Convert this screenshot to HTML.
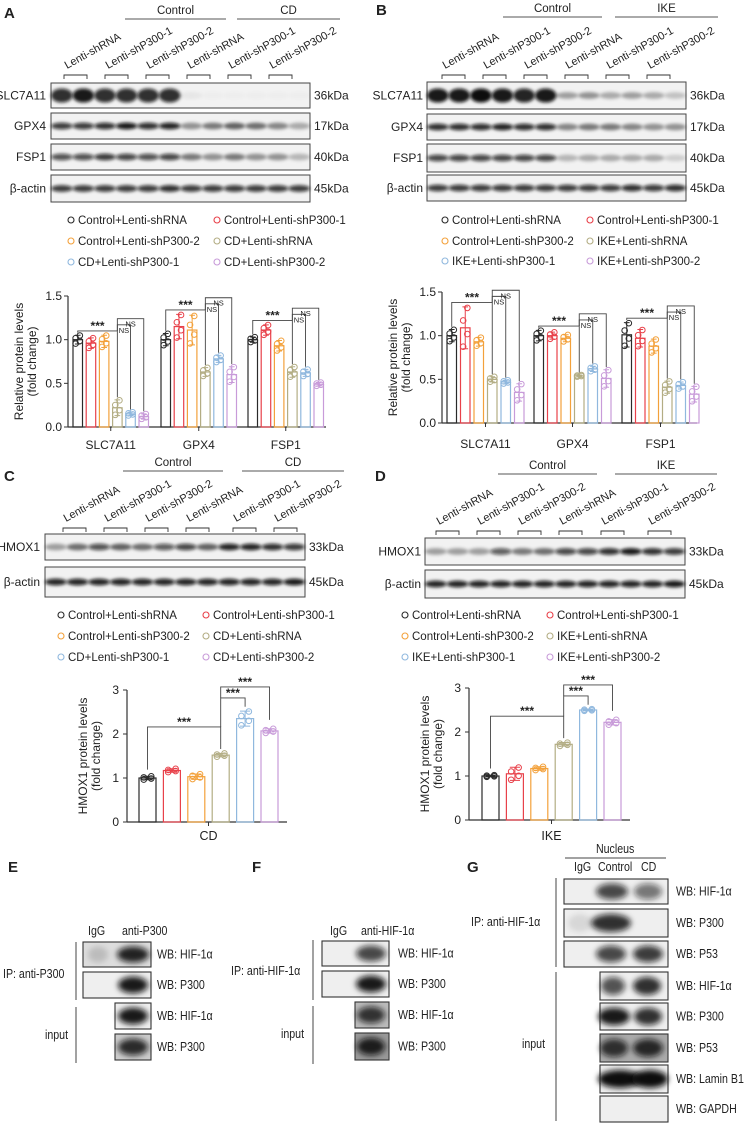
<!DOCTYPE html>
<html><head><meta charset="utf-8"><style>
html,body{margin:0;padding:0;background:#fff;}
svg{display:block;font-family:"Liberation Sans",Arial,sans-serif;}
</style></head><body>
<svg id="fig" width="744" height="1123" viewBox="0 0 744 1123" xmlns="http://www.w3.org/2000/svg">
<defs>
<filter id="blur1" x="-20%" y="-100%" width="140%" height="300%"><feGaussianBlur stdDeviation="1.6"/></filter>
<filter id="blur2" x="-30%" y="-60%" width="160%" height="220%"><feGaussianBlur stdDeviation="3"/></filter>
</defs>
<g id="root"></g>
</svg>
<script>
// ---------- DATA ----------
const colors = ['#2a2a2a','#e8414a','#f3a13b','#b3ad84','#90b8de','#c89bd9'];
const catsA = ['SLC7A11','GPX4','FSP1'];
const meansA = [[1.0,0.96,0.98,0.22,0.15,0.12],[1.0,1.15,1.11,0.63,0.78,0.60],[1.0,1.11,0.93,0.63,0.62,0.49]];
const sdsA = [[0.05,0.06,0.07,0.09,0.02,0.03],[0.07,0.14,0.17,0.05,0.04,0.09],[0.03,0.06,0.06,0.06,0.04,0.02]];
const catsB = ['SLC7A11','GPX4','FSP1'];
const meansB = [[1.0,1.09,0.93,0.50,0.47,0.35],[1.0,1.0,0.97,0.54,0.62,0.51],[1.01,0.97,0.88,0.41,0.43,0.33]];
const sdsB = [[0.07,0.24,0.05,0.03,0.02,0.1],[0.06,0.04,0.04,0.01,0.03,0.1],[0.14,0.1,0.08,0.07,0.04,0.09]];
const yTicksAB = [0.0,0.5,1.0,1.5];
const tickLabelsAB = ['0.0','0.5','1.0','1.5'];
const meansC = [1.0,1.17,1.03,1.52,2.35,2.07];
const sdsC = [0.04,0.04,0.06,0.04,0.17,0.05];
const meansD = [1.0,1.05,1.17,1.72,2.50,2.22];
const sdsD = [0.02,0.15,0.04,0.04,0.02,0.06];
const yTicksCD = [0,1,2,3];
const tickLabelsCD = ['0','1','2','3'];
const lanes = ['Lenti-shRNA','Lenti-shP300-1','Lenti-shP300-2','Lenti-shRNA','Lenti-shP300-1','Lenti-shP300-2'];
const legendA = ['Control+Lenti-shRNA','Control+Lenti-shP300-1','Control+Lenti-shP300-2','CD+Lenti-shRNA','CD+Lenti-shP300-1','CD+Lenti-shP300-2'];
const legendB = ['Control+Lenti-shRNA','Control+Lenti-shP300-1','Control+Lenti-shP300-2','IKE+Lenti-shRNA','IKE+Lenti-shP300-1','IKE+Lenti-shP300-2'];
const bandsA = {SLC7A11:[0.85,0.95,0.85,0.85,0.85,0.85,0.05,0.02,0.02,0.02,0.02,0.02],GPX4:[0.8,0.8,0.85,0.95,0.85,0.9,0.4,0.5,0.6,0.55,0.45,0.3],FSP1:[0.7,0.7,0.8,0.75,0.7,0.75,0.5,0.4,0.5,0.4,0.4,0.25],'β-actin':[0.8,0.8,0.8,0.8,0.8,0.85,0.8,0.8,0.8,0.8,0.8,0.8]};
const bandsB = {SLC7A11:[0.95,0.95,1,0.95,0.9,0.95,0.35,0.4,0.3,0.35,0.3,0.2],GPX4:[0.85,0.85,0.85,0.9,0.85,0.85,0.45,0.5,0.5,0.45,0.4,0.4],FSP1:[0.75,0.75,0.75,0.75,0.75,0.75,0.25,0.3,0.3,0.3,0.3,0.15],'β-actin':[0.8,0.8,0.8,0.8,0.8,0.8,0.8,0.8,0.8,0.85,0.8,0.85]};
const bandsC = {HMOX1:[0.35,0.55,0.7,0.6,0.55,0.65,0.75,0.6,0.9,0.9,0.85,0.8],'β-actin':[0.9,0.9,0.9,0.9,0.9,0.9,0.9,0.9,0.9,0.9,0.9,0.95]};
const bandsD = {HMOX1:[0.35,0.35,0.35,0.65,0.5,0.55,0.75,0.75,0.85,0.95,0.85,0.8],'β-actin':[0.9,0.9,0.9,0.9,0.9,0.9,0.9,0.9,0.9,0.9,0.9,0.95]};

const NS='http://www.w3.org/2000/svg';
const root=document.getElementById('root');
function el(tag,attrs,parent,text){const e=document.createElementNS(NS,tag);for(const k in attrs)e.setAttribute(k,attrs[k]);if(text!==undefined)e.textContent=text;(parent||root).appendChild(e);return e;}
function txt(x,y,s,size,parent,anchor,extra){const t=el('text',Object.assign({x:x,y:y,'font-size':size,fill:'#222','text-anchor':anchor||'start'},extra||{}),parent,s);return t;}

[['A',4,18],['B',376,15],['C',4,481],['D',375,481],['E',8,872],['F',252,872],['G',467,872]].forEach(p=>{
  const t=txt(p[1],p[2],p[0],15,root,'start',{'font-weight':'bold'});
  
  
});

function blotPanel(cfg){
  const g=el('g',{});
  
  
  cfg.groups.forEach(gr=>{
    el('line',{x1:gr[1],x2:gr[2],y1:cfg.gy,y2:cfg.gy,stroke:'#555','stroke-width':1},g);
    const t=txt((gr[1]+gr[2])/2,cfg.gy-5,gr[0],11.5,g,'middle');
    
    
  });
  const bw=cfg.bx1-cfg.bx0;
  cfg.bracketX.forEach((bx,i)=>{
    el('path',{d:`M${bx},${cfg.by+4}V${cfg.by}H${bx+23}V${cfg.by+4}`,fill:'none',stroke:'#333','stroke-width':0.9},g);
    const t=txt(0,0,lanes[i],11,g,'start',{transform:`translate(${bx+3},${cfg.by-6}) rotate(-29)`});
    
    
  });
  const laneW=bw/12;
  cfg.rows.forEach(r=>{
    const [name,y0,y1,kda]=r;
    const box=el('g',{},g);
    
    
    el('rect',{x:cfg.bx0,y:y0,width:bw,height:y1-y0,fill:'#f2f2f2',stroke:'#444','stroke-width':1},box);
    const vals=cfg.bands[name];
    const cy=(y0+y1)/2;
    vals.forEach((v,i)=>{
      const cx=cfg.bx0+laneW*(i+0.5);
      const big = name==='SLC7A11' && v>0.8;
      el('ellipse',{cx:cx,cy:cy,rx:laneW*0.5,ry:big?7:3.4,fill:`rgba(10,10,10,${v})`,filter:'url(#blur1)'},box);
    });
    txt(cfg.labX,cy+4,name,12,g,'end');
    txt(cfg.bx1+4,cy+4,kda,12,g,'start');
  });
  return g;
}

blotPanel({name:'blot-panel-a',groups:[['Control',125,226],['CD',237,340]],gy:19,bracketX:[64,105,146,187,228,269],by:75,bx0:51,bx1:310,labX:46,
  rows:[['SLC7A11',83,108,'36kDa'],['GPX4',113,139,'17kDa'],['FSP1',144,170,'40kDa'],['β-actin',175,202,'45kDa']],bands:bandsA});
blotPanel({name:'blot-panel-b',groups:[['Control',503,602],['IKE',615,718]],gy:17,bracketX:[442,483,524,565,606,647],by:75,bx0:427,bx1:686,labX:423,
  rows:[['SLC7A11',82,109,'36kDa'],['GPX4',114,140,'17kDa'],['FSP1',144,172,'40kDa'],['β-actin',175,201,'45kDa']],bands:bandsB});
blotPanel({name:'blot-panel-c',groups:[['Control',123,223],['CD',242,344]],gy:471,bracketX:[63,104,145,186,233,274],by:528,bx0:45,bx1:305,labX:40,
  rows:[['HMOX1',534,560,'33kDa'],['β-actin',567,597,'45kDa']],bands:bandsC});
blotPanel({name:'blot-panel-d',groups:[['Control',498,597],['IKE',615,717]],gy:474,bracketX:[436,477,518,559,601,648],by:531,bx0:425,bx1:685,labX:421,
  rows:[['HMOX1',538,565,'33kDa'],['β-actin',570,598,'45kDa']],bands:bandsD});

function legend(items,x1,x2,ys,name){
  const g=el('g',{});
  
  
  items.forEach((s,i)=>{
    const x=i%2?x2:x1, y=ys[Math.floor(i/2)];
    const it=el('g',{},g);
    
    
    el('circle',{cx:x,cy:y,r:3,fill:'none',stroke:colors[i],'stroke-width':1.1},it);
    txt(x+7,y+4,s,11.5,it);
  });
}
legend(legendA,71,217,[220,241,262],'legend-a');
legend(legendB,445,590,[220,241,261],'legend-b');
legend(legendA,61,206,[615,636,657],'legend-c');
legend(legendB,405,550,[615,636,657],'legend-d');

const jit=[-0.9,-0.3,0.35,0.95];
function drawBar(g,xl,w,m,sd,col,ys){
  const b=el('rect',{x:xl,y:ys(m),width:w,height:ys(0)-ys(m),fill:'none',stroke:col,'stroke-width':1.2},g);
  
  
  const cx=xl+w/2;
  el('path',{d:`M${cx},${ys(m+sd)}V${ys(m-sd)}M${cx-w*0.3},${ys(m+sd)}H${cx+w*0.3}M${cx-w*0.3},${ys(m-sd)}H${cx+w*0.3}`,stroke:col,'stroke-width':1,fill:'none'},g);
  jit.forEach((j,k)=>{
    const pt=el('circle',{cx:cx+(k%2?w*0.22:-w*0.22),cy:ys(m+j*sd),r:2.8,fill:'none',stroke:col,'stroke-width':1},g);
    
    
  });
}
function sig(g,x1,x2,yTop,y1b,y2b,label){
  el('path',{d:`M${x1},${y1b}V${yTop}H${x2}V${y2b}`,fill:'none',stroke:'#444','stroke-width':0.9},g);
  txt((x1+x2)/2,label==='NS'?yTop+8:yTop-1,label,label==='NS'?7.5:12,g,'middle',label==='NS'?{}:{'font-weight':'bold'});
}

function groupedChart(cfg){
  const g=el('g',{});
  
  
  const ys=v=>cfg.y0-(v/1.5)*(cfg.y0-cfg.y15);
  el('line',{x1:cfg.ax,x2:cfg.ax,y1:ys(1.5),y2:ys(0),stroke:'#333','stroke-width':1.2},g);
  el('line',{x1:cfg.ax,x2:cfg.axEnd,y1:ys(0),y2:ys(0),stroke:'#333','stroke-width':1.2},g);
  yTicksAB.forEach((v,i)=>{
    el('line',{x1:cfg.ax-4,x2:cfg.ax,y1:ys(v),y2:ys(v),stroke:'#333'},g);
    txt(cfg.ax-6,ys(v)+4,tickLabelsAB[i],12,g,'end');
  });
  const yt=txt(0,0,'Relative  protein levels',12,g,'middle',{transform:`translate(${cfg.ax-45},${ys(0.75)}) rotate(-90)`});
  
  
  txt(0,0,'(fold change)',12,g,'middle',{transform:`translate(${cfg.ax-32},${ys(0.75)}) rotate(-90)`});
  cfg.cats.forEach((c,ci)=>{
    const gx=cfg.groupX[ci];
    cfg.means[ci].forEach((m,bi)=>drawBar(g,gx+bi*cfg.step,cfg.w,m,cfg.sds[ci][bi],colors[bi],ys));
    const cxm=gx+2.5*cfg.step+cfg.w/2;
    el('line',{x1:cxm,x2:cxm,y1:ys(0),y2:ys(0)+4,stroke:'#333'},g);
    const cl=txt(cxm,cfg.labY,c,12,g,'middle');
    
    
    const bx=i=>gx+i*cfg.step+cfg.w/2;
    const m=cfg.means[ci], s=cfg.sds[ci];
    const hi=Math.max(m[0]+s[0],m[1]+s[1],m[2]+s[2]);
    const l3=hi+0.05;
    sig(g,bx(0),bx(3),ys(l3),ys(m[0]+s[0]+0.03),ys(m[3]+s[3]+0.03),'***');
    sig(g,bx(3),bx(4),ys(l3+0.07),ys(l3),ys(m[4]+s[4]+0.03),'NS');
    sig(g,bx(3),bx(5),ys(l3+0.14),ys(l3),ys(m[5]+s[5]+0.03),'NS');
  });
  return g;
}
groupedChart({name:'bar-chart-a',cats:catsA,means:meansA,sds:sdsA,ax:68,axEnd:326,y0:427,y15:296,groupX:[73,161,248],step:13.2,w:9.5,labY:449});
groupedChart({name:'bar-chart-b',cats:catsB,means:meansB,sds:sdsB,ax:442,axEnd:697,y0:423,y15:292,groupX:[447,534,622],step:13.5,w:9.5,labY:448});

function singleChart(cfg){
  const g=el('g',{});
  
  
  const ys=v=>cfg.y0-(v/3)*(cfg.y0-cfg.y3);
  el('line',{x1:cfg.ax,x2:cfg.ax,y1:ys(3),y2:ys(0),stroke:'#333','stroke-width':1.2},g);
  el('line',{x1:cfg.ax,x2:cfg.axEnd,y1:ys(0),y2:ys(0),stroke:'#333','stroke-width':1.2},g);
  yTicksCD.forEach((v,i)=>{
    el('line',{x1:cfg.ax-4,x2:cfg.ax,y1:ys(v),y2:ys(v),stroke:'#333'},g);
    txt(cfg.ax-8,ys(v)+4,tickLabelsCD[i],12,g,'end');
  });
  const yt=txt(0,0,'HMOX1  protein levels',12,g,'middle',{transform:`translate(${cfg.ax-40},${ys(1.5)}) rotate(-90)`});
  
  
  txt(0,0,'(fold change)',12,g,'middle',{transform:`translate(${cfg.ax-27},${ys(1.5)}) rotate(-90)`});
  cfg.means.forEach((m,i)=>drawBar(g,cfg.x0+i*cfg.step,cfg.w,m,cfg.sds[i],colors[i],ys));
  const mid=cfg.x0+2.5*cfg.step+cfg.w/2;
  el('line',{x1:mid,x2:mid,y1:ys(0),y2:ys(0)+4,stroke:'#333'},g);
  txt(mid,cfg.labY,cfg.label,12.5,g,'middle');
  const bx=i=>cfg.x0+i*cfg.step+cfg.w/2;
  const m=cfg.means,s=cfg.sds;
  const l1=m[3]+s[3]+0.6;
  sig(g,bx(0),bx(3),ys(l1),ys(m[0]+s[0]+0.15),ys(m[3]+s[3]+0.1),'***');
  const l2=m[4]+s[4]+0.3;
  sig(g,bx(3),bx(4),ys(l2),ys(l1),ys(m[4]+s[4]+0.1),'***');
  sig(g,bx(3),bx(5),ys(l2+0.25),ys(l2),ys(m[5]+s[5]+0.2),'***');
}
singleChart({name:'bar-chart-c',means:meansC,sds:sdsC,ax:127,axEnd:287,y0:822,y3:690,x0:139,step:24.4,w:17,labY:840,label:'CD'});
singleChart({name:'bar-chart-d',means:meansD,sds:sdsD,ax:469,axEnd:630,y0:820,y3:688,x0:482,step:24.4,w:17,labY:840,label:'IKE'});

function coip(cfg){
  const g=el('g',{});
  
  
  const F=12.5, S=0.85;
  cfg.heads.forEach(h=>txt(h[1]/S,h[2],h[0],F,g,'start',{transform:`scale(${S},1)`}));
  cfg.vlines.forEach(v=>el('line',{x1:v[0],x2:v[0],y1:v[1],y2:v[2],stroke:'#444','stroke-width':1},g));
  cfg.side.forEach(sd=>txt(sd[1]/S,sd[2],sd[0],F,g,'start',{transform:`scale(${S},1)`}));
  cfg.boxes.forEach(b=>{
    const [lab,x0,x1,y0,y1,dens]=b;
    const bg=el('g',{},g);
    
    
    el('rect',{x:x0,y:y0,width:x1-x0,height:y1-y0,fill:b[6]||'#efefef',stroke:'#333','stroke-width':1.1},bg);
    dens.forEach(d=>{ if(d[2]>0) el('ellipse',{cx:d[0],cy:(y0+y1)/2,rx:d[1],ry:(y1-y0)*0.32,fill:`rgba(15,15,15,${d[2]})`,filter:'url(#blur2)'},bg);});
    txt(cfg.wbx/S,(y0+y1)/2+4,'WB: '+lab,F,bg,'start',{transform:`scale(${S},1)`});
  });
}
coip({name:'coip-panel-e',wbx:157,heads:[['IgG',88,935],['anti-P300',122,935]],vlines:[[76,942,1000],[76,1007,1063]],
  side:[['IP: anti-P300',3,978],['input',45,1039]],
  boxes:[['HIF-1α',83,151,942,967,[[133,16,0.9],[98,10,0.15]],'#ddd'],['P300',83,151,972,998,[[133,15,0.95]]],
         ['HIF-1α',115,151,1003,1029,[[133,15,0.95]]],['P300',115,151,1034,1060,[[133,15,0.85]],'#ccc']]});
coip({name:'coip-panel-f',wbx:398,heads:[['IgG',330,935],['anti-HIF-1α',361,935]],vlines:[[313,940,1000],[313,1006,1064]],
  side:[['IP:  anti-HIF-1α',231,975],['input',281,1038]],
  boxes:[['HIF-1α',322,389,941,966,[[371,15,0.75]]],['P300',322,389,971,997,[[371,15,0.95]]],
         ['HIF-1α',355,389,1002,1028,[[371,14,0.8]],'#bbb'],['P300',355,389,1033,1060,[[371,14,0.9]],'#999']]});
coip({name:'coip-panel-g',wbx:676,heads:[['IgG',574,871],['Control',598,871],['CD',641,871]],vlines:[[556,878,967],[556,972,1121]],
  side:[['IP: anti-HIF-1α',471,926],['input',522,1048],['Nucleus',596,853]],
  boxes:[['HIF-1α',564,668,879,904,[[612,16,0.75],[648,14,0.55]]],['P300',564,668,909,937,[[611,20,0.85],[580,12,0.1]]],
         ['P53',564,668,941,967,[[611,15,0.75],[648,15,0.8]]],
         ['HIF-1α',600,668,972,1000,[[613,12,0.7],[647,14,0.85]]],['P300',600,668,1003,1030,[[614,16,0.95],[648,14,0.85]]],
         ['P53',600,668,1034,1062,[[614,14,0.8],[648,15,0.85]],'#aaa'],['Lamin B1',600,668,1065,1093,[[620,22,1],[650,18,1]]],
         ['GAPDH',600,668,1096,1122,[]]]});
el('line',{x1:565,x2:666,y1:858,y2:858,stroke:'#444','stroke-width':1});
</script>
</body></html>
